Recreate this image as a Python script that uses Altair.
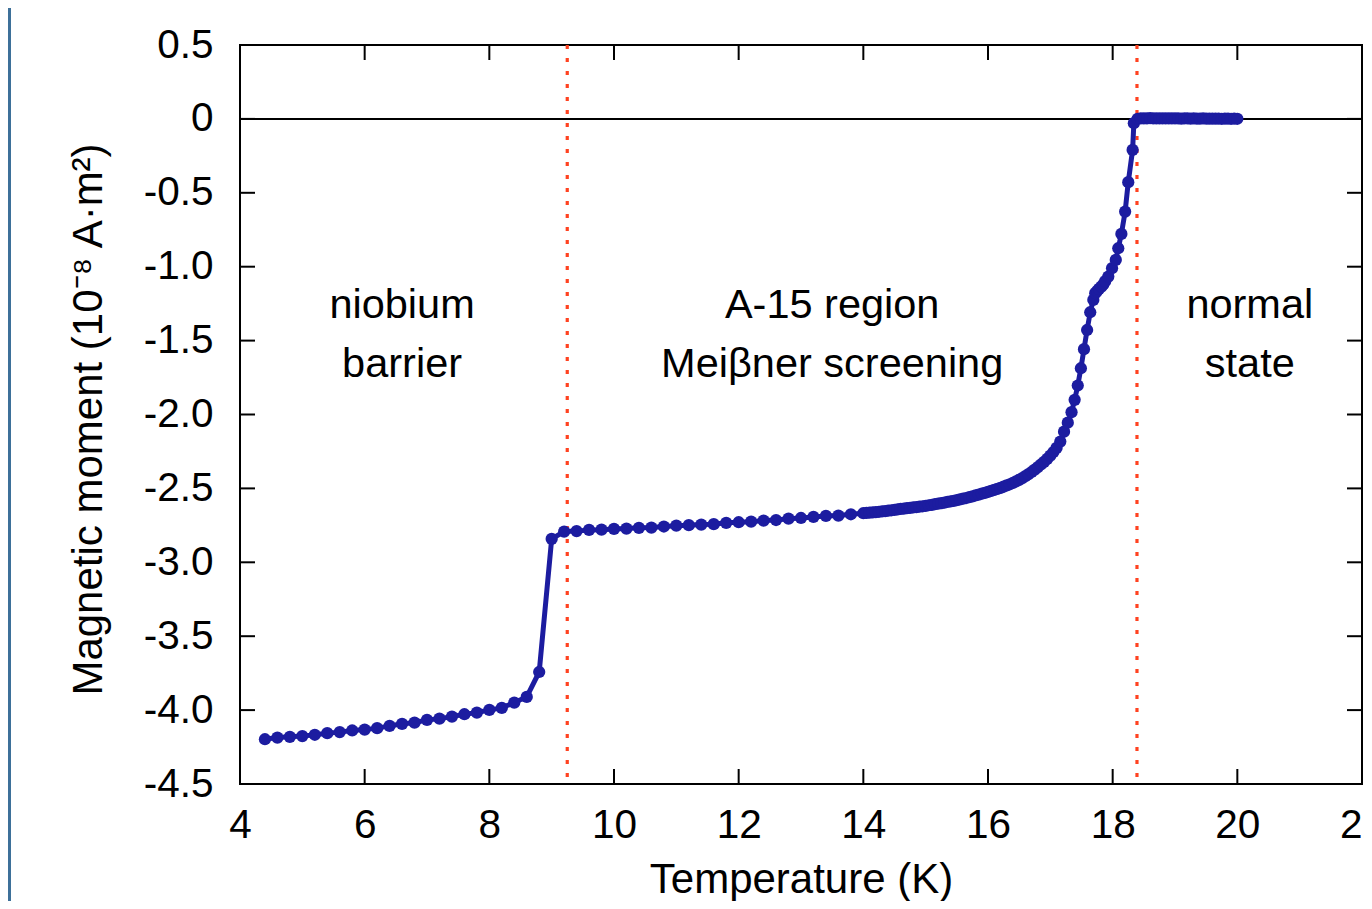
import altair as alt
import pandas as pd

# ---------------- data ----------------
temp_low = [4.4, 4.6, 4.8, 5.0, 5.2, 5.4, 5.6, 5.8, 6.0, 6.2, 6.4, 6.6, 6.8, 7.0, 7.2,
            7.4, 7.6, 7.8, 8.0, 8.2, 8.4, 8.6, 8.8, 9.0, 9.2, 9.4, 9.6, 9.8, 10.0, 10.2,
            10.4, 10.6, 10.8, 11.0, 11.2, 11.4, 11.6, 11.8, 12.0, 12.2, 12.4, 12.6, 12.8,
            13.0, 13.2, 13.4, 13.6, 13.8]
moment_low = [-4.197, -4.186, -4.181, -4.176, -4.167, -4.156, -4.149, -4.138, -4.132, -4.122,
              -4.107, -4.093, -4.085, -4.066, -4.058, -4.044, -4.028, -4.017, -3.999, -3.985,
              -3.949, -3.911, -3.742, -2.842, -2.792, -2.789, -2.781, -2.779, -2.774, -2.772,
              -2.767, -2.765, -2.758, -2.752, -2.749, -2.745, -2.742, -2.733, -2.729, -2.725,
              -2.718, -2.714, -2.705, -2.700, -2.693, -2.686, -2.684, -2.675]

temp_mid = [14.00, 14.05, 14.10, 14.15, 14.20, 14.25, 14.30, 14.35, 14.40, 14.45, 14.50,
            14.55, 14.60, 14.65, 14.70, 14.75, 14.80, 14.85, 14.90, 14.95, 15.00, 15.05,
            15.10, 15.15, 15.20, 15.25, 15.30, 15.35, 15.40, 15.45, 15.50, 15.55, 15.60,
            15.65, 15.70, 15.75, 15.80, 15.85, 15.90, 15.95, 16.00, 16.05, 16.10, 16.15,
            16.20, 16.25, 16.30, 16.35, 16.40, 16.45, 16.50, 16.55, 16.60, 16.65, 16.70,
            16.75, 16.80, 16.85, 16.90, 16.95, 17.00, 17.05, 17.10]
moment_mid = [-2.668, -2.666, -2.664, -2.662, -2.660, -2.658, -2.656, -2.654, -2.651, -2.648,
              -2.645, -2.642, -2.639, -2.637, -2.634, -2.632, -2.629, -2.627, -2.624, -2.621,
              -2.618, -2.614, -2.611, -2.607, -2.603, -2.600, -2.596, -2.592, -2.588, -2.584,
              -2.580, -2.575, -2.570, -2.565, -2.559, -2.554, -2.548, -2.542, -2.536, -2.530,
              -2.524, -2.517, -2.510, -2.503, -2.496, -2.488, -2.480, -2.472, -2.463, -2.453,
              -2.442, -2.430, -2.417, -2.403, -2.389, -2.373, -2.356, -2.338, -2.320, -2.300,
              -2.278, -2.254, -2.226]

temp_tr = [17.16, 17.22, 17.28, 17.34, 17.39, 17.44, 17.49, 17.54, 17.59, 17.64, 17.69,
           17.72, 17.75, 17.78, 17.82, 17.85, 17.88, 17.93, 17.99, 18.05, 18.09, 18.14,
           18.20, 18.25, 18.32, 18.34]
moment_tr = [-2.183, -2.116, -2.055, -1.984, -1.901, -1.804, -1.687, -1.558, -1.428, -1.308,
             -1.225, -1.179, -1.165, -1.150, -1.135, -1.120, -1.098, -1.067, -1.010, -0.954,
             -0.875, -0.778, -0.627, -0.428, -0.210, -0.029]

temp_norm = [18.40, 18.45, 18.50, 18.55, 18.60, 18.65, 18.70, 18.75, 18.80, 18.85, 18.90,
             18.95, 19.00, 19.05, 19.10, 19.15, 19.20, 19.25, 19.30, 19.35, 19.40, 19.45,
             19.50, 19.55, 19.60, 19.65, 19.70, 19.75, 19.80, 19.85, 19.90, 19.95, 20.00]
moment_norm = [0.001, 0.003, 0.004, 0.004, 0.005, 0.004, 0.004, 0.003, 0.004, 0.003, 0.003,
               0.004, 0.003, 0.003, 0.002, 0.003, 0.003, 0.002, 0.003, 0.002, 0.002, 0.003,
               0.002, 0.002, 0.002, 0.002, 0.002, 0.001, 0.002, 0.002, 0.001, 0.002, 0.001]

boundary_temps = [9.25, 18.39]

ann_text = ["niobium", "barrier", "A-15 region", "Meiβner screening", "normal", "state"]
ann_t = [6.6, 6.6, 13.5, 13.5, 20.2, 20.2]
ann_m = [-1.346, -1.746, -1.346, -1.746, -1.346, -1.746]

x_ticks = [4, 6, 8, 10, 12, 14, 16, 18, 20, 22]
y_ticks = [0.5, 0, -0.5, -1.0, -1.5, -2.0, -2.5, -3.0, -3.5, -4.0, -4.5]

# ---------------- tables ----------------
df = pd.DataFrame({
    "T": temp_low + temp_mid + temp_tr + temp_norm,
    "M": moment_low + moment_mid + moment_tr + moment_norm,
})
df["order"] = range(len(df))
df_b = pd.DataFrame({"T": boundary_temps})
df_ann = pd.DataFrame({"text": ann_text, "T": ann_t, "M": ann_m})
df_xt = pd.DataFrame({"T": x_ticks})
df_yt = pd.DataFrame({"M": y_ticks})
df_zero = pd.DataFrame({"M": [0]})

W, H = 1122, 739
PAD_L, PAD_T, PAD_R, PAD_B = 232, 37, 2, 117
FONT = "Liberation Sans"
FS_TICK = 40.5
FS_ANN = 41.5
FS_TITLE = 42
BLUE = "#1c1ca0"
RED = "#ff4220"
TICK = 15

xscale = alt.Scale(domain=[4, 22], nice=False, zero=False)
yscale = alt.Scale(domain=[-4.5, 0.5], nice=False, zero=False)

x_axis = alt.Axis(values=x_ticks, format="d", tickSize=0, domain=False, grid=False,
                  labelFontSize=FS_TICK, labelFont=FONT, labelColor="black", labelPadding=21,
                  labelFlush=False, labelOverlap=False, labelBound=False,
                  title="Temperature (K)", titleFont=FONT, titleFontSize=FS_TITLE,
                  titleFontWeight="normal", titleColor="black",
                  titleY=108, titleBaseline="alphabetic")
y_axis = alt.Axis(values=y_ticks, tickSize=0, domain=False, grid=False,
                  labelExpr="datum.value == 0 ? '0' : (datum.value % 1 == 0 ? datum.value + '.0' : '' + datum.value)",
                  labelFontSize=FS_TICK, labelFont=FONT, labelColor="black", labelPadding=27,
                  labelOverlap=False, labelBound=False, labelFlush=False,
                  title="Magnetic moment (10⁻⁸ A·m²)", titleFont=FONT, titleFontSize=FS_TITLE,
                  titleFontWeight="normal", titleColor="black", titleAngle=270,
                  titleX=-139, titleY=374, titleAlign="center", titleBaseline="alphabetic")

sidebar = alt.Chart(df_zero).mark_rect(color="#3d7099").encode(
    x=alt.value(-PAD_L), x2=alt.value(-PAD_L + 3), y=alt.value(-PAD_T), y2=alt.value(H + PAD_B))

zero_line = alt.Chart(df_zero).mark_rule(color="black", strokeWidth=2).encode(
    y=alt.Y("M:Q", scale=yscale, axis=y_axis))

bounds = alt.Chart(df_b).mark_rule(color=RED, strokeWidth=3.2, strokeDash=[4, 9]).encode(
    x=alt.X("T:Q", scale=xscale, axis=x_axis))

line = alt.Chart(df).mark_line(color=BLUE, strokeWidth=5).encode(
    x=alt.X("T:Q", scale=xscale), y=alt.Y("M:Q", scale=yscale), order="order:Q")
points = alt.Chart(df).mark_circle(color=BLUE, size=150, opacity=1).encode(
    x=alt.X("T:Q", scale=xscale), y=alt.Y("M:Q", scale=yscale))

labels = alt.Chart(df_ann).mark_text(font=FONT, fontSize=FS_ANN, color="black",
                                     align="center", baseline="alphabetic").encode(
    x=alt.X("T:Q", scale=xscale), y=alt.Y("M:Q", scale=yscale), text="text:N")

tick_l = alt.Chart(df_yt).mark_rule(color="black", strokeWidth=2).encode(
    y=alt.Y("M:Q", scale=yscale), x=alt.value(0), x2=alt.value(TICK))
tick_r = alt.Chart(df_yt).mark_rule(color="black", strokeWidth=2).encode(
    y=alt.Y("M:Q", scale=yscale), x=alt.value(W - TICK), x2=alt.value(W))
tick_b = alt.Chart(df_xt).mark_rule(color="black", strokeWidth=2).encode(
    x=alt.X("T:Q", scale=xscale), y=alt.value(H - TICK), y2=alt.value(H))
tick_t = alt.Chart(df_xt).mark_rule(color="black", strokeWidth=2).encode(
    x=alt.X("T:Q", scale=xscale), y=alt.value(0), y2=alt.value(TICK))

chart = alt.layer(
    sidebar, zero_line, bounds, line, points, labels, tick_l, tick_r, tick_b, tick_t
).properties(
    width=W, height=H,
    autosize=alt.AutoSizeParams(type="none"),
    padding={"left": PAD_L, "top": PAD_T, "right": PAD_R, "bottom": PAD_B},
    background="white",
).configure_view(stroke="black", strokeWidth=2)

chart.save("out.html", embed_options={"renderer": "svg", "actions": False})
